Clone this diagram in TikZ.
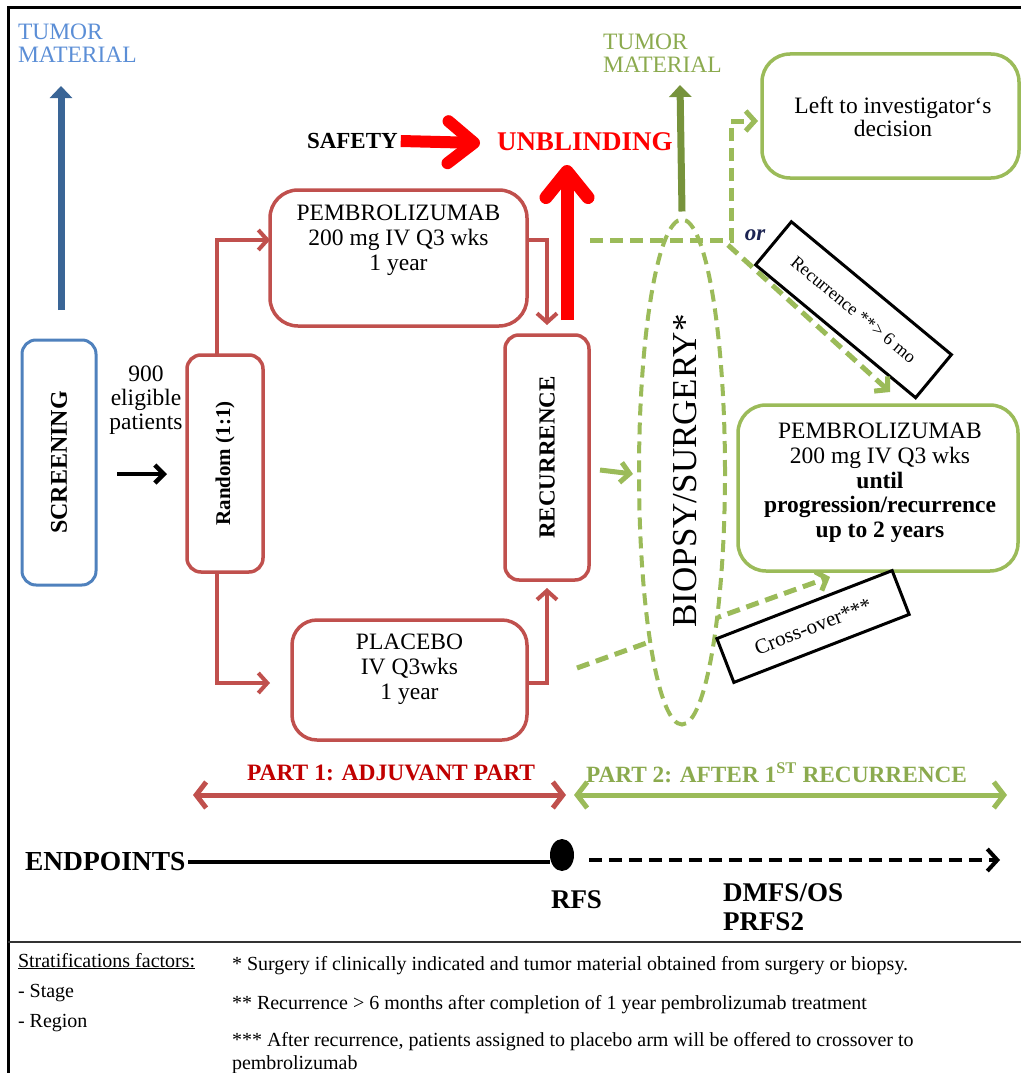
\documentclass[tikz,border=0pt]{standalone}
\usepackage{fontspec}
\setmainfont{Liberation Serif}
\usetikzlibrary{arrows.meta,shapes.geometric}
\definecolor{boxred}{HTML}{C0504D}
\definecolor{brightred}{HTML}{FF0000}
\definecolor{darkred}{HTML}{C00000}
\definecolor{boxgreen}{HTML}{9BBB59}
\definecolor{olivegreen}{HTML}{77933C}
\definecolor{textgreen}{HTML}{8BAA4E}
\definecolor{boxblue}{HTML}{4F81BD}
\definecolor{textblue}{HTML}{5B8ED6}
\definecolor{steelblue}{HTML}{3A6596}
\definecolor{navytext}{HTML}{1C2452}
\newcommand{\fsz}[2]{\fontsize{#1}{#2}\selectfont}

\begin{document}
\begin{tikzpicture}[x=1pt,y=-1pt,
  every node/.style={inner sep=0pt,outer sep=0pt},
  bluebox/.style={draw=boxblue,line width=3pt,rounded corners=14},
  redbox/.style={draw=boxred,line width=3.5pt,fill=white},
  greenbox/.style={draw=boxgreen,line width=3.5pt,rounded corners=28,fill=white},
  blackbox/.style={draw=black,line width=3pt,fill=white},
  lbl/.style={align=center,font=\fsz{23.5}{25}},
  redconn/.style={draw=boxred,line width=4pt,-{Straight Barb[length=9pt,width=20pt]}},
  bigred/.style={draw=brightred,line width=12pt,-{Straight Barb[length=26pt,width=42pt,round]}},
  blackarrow/.style={draw=black,line width=4.5pt,-{Straight Barb[length=9pt,width=18pt]}},
  greenarrow/.style={draw=boxgreen,line width=5pt,-{Straight Barb[length=9pt,width=20pt]}},
  greendash/.style={draw=boxgreen,line width=5pt,dash pattern=on 13pt off 7pt},
  greendasharrow/.style={greendash,-{Straight Barb[length=9pt,width=20pt]}},
  tumorarrow/.style={line width=7pt,-{Triangle[length=12pt,width=22pt]}},
  partarrow/.style={line width=5pt,{Straight Barb[length=10pt,width=26pt]}-{Straight Barb[length=10pt,width=26pt]}},
  blackdash/.style={draw=black,line width=4pt,dash pattern=on 13pt off 7pt,-{Straight Barb[length=10pt,width=22pt]}},
  epfont/.style={font=\bfseries\fsz{27}{29}},
  fnfont/.style={font=\fsz{20}{22}}
]
\useasboundingbox (0,0) rectangle (1021,1073);

% frame and footnote separator
\draw[line width=3pt] (8,1073) -- (8,8) -- (1021,8);
\draw[line width=2.5pt,black!80] (8,942) -- (1021,942);

% ---------- left column ----------
\node[anchor=west,align=left,text=textblue,font=\fsz{23.5}{23}] (tumorL) at (18,43) {TUMOR\\MATERIAL};
\node[bluebox,minimum width=74,minimum height=245] (screen) at (59,462.5) {};
\node[rotate=90,font=\bfseries\fsz{24}{25}] (screenT) at (screen) {SCREENING};
\coordinate (tumorLtip) at (61,86);
\draw[tumorarrow,steelblue] ([xshift=2pt,yshift=30pt]screen.north) -- (tumorLtip);

\node[lbl,font=\fsz{23.5}{24}] (elig) at (146,400) {900\\eligible\\patients};

\node[redbox,rounded corners=14,minimum width=76,minimum height=217] (random) at (225,463.5) {};
\node[rotate=90,font=\bfseries\fsz{21}{22}] (randomT) at (random) {Random (1:1)};
\draw[blackarrow] ([xshift=21pt,yshift=-11.5pt]screen.east) -- ([xshift=-20pt,yshift=-10.5pt]random.west);

% ---------- part 1 arms ----------
\node[redbox,rounded corners=28,minimum width=257,minimum height=136] (pemb) at (398.5,258) {};
\node[lbl] (pembT) at (398.5,240) {PEMBROLIZUMAB\\200 mg IV Q3 wks\\1 year};
\node[redbox,rounded corners=25,minimum width=235,minimum height=120] (placebo) at (409.5,680) {};
\node[lbl] (placeboT) at (409.5,669) {PLACEBO\\IV Q3wks\\1 year};
\node[redbox,rounded corners=14,minimum width=84,minimum height=245] (recur) at (547,457.5) {};
\node[rotate=90,font=\bfseries\fsz{23}{25}] (recurT) at (recur) {RECURRENCE};

\draw[redconn] ([xshift=-8pt]random.north) |- ([yshift=18pt]pemb.west);
\draw[redconn] ([xshift=-8pt]random.south) |- ([xshift=-22pt,yshift=-3pt]placebo.west);
\draw[redconn] ([yshift=18pt]pemb.east) -| ([yshift=10pt]recur.north);
\draw[redconn] ([yshift=-3pt]placebo.east) -| ([yshift=-8pt]recur.south);

% ---------- safety / unblinding ----------
\node[anchor=west,font=\bfseries\fsz{23}{25}] (safety) at (307,141) {SAFETY};
\node[anchor=west,text=brightred,font=\bfseries\fsz{27}{29}] (unblind) at (497,142) {UNBLINDING};
\draw[bigred] ([xshift=3pt]safety.east) -- ([xshift=-17pt,yshift=-1pt]unblind.west);
\coordinate (unblindtip) at (567,165);
\draw[bigred,line width=13pt] ([xshift=20pt,yshift=15pt]recur.north) -- (unblindtip);

% ---------- part 2 ----------
\draw[greendasharrow] (577,668) -- (830,577);
\node[ellipse,draw=boxgreen,line width=4pt,dash pattern=on 12pt off 7pt,fill=white,
      minimum width=86,minimum height=505] (biopsy) at (682,472) {};
\node[rotate=90,font=\fsz{35}{36}] (biopsyT) at (685,471) {BIOPSY/SURGERY*};
\draw[greenarrow] ([xshift=11pt,yshift=-12.5pt]recur.east) -- ([xshift=-6pt,yshift=-2pt]biopsy.west);

\node[anchor=west,align=left,text=textgreen,font=\fsz{23.5}{23}] (tumorR) at (603,53) {TUMOR\\MATERIAL};
\coordinate (tumorRtip) at (680,85);
\draw[tumorarrow,olivegreen] ([yshift=8pt]biopsy.north) -- (tumorRtip);

\node[greenbox,minimum width=257,minimum height=124] (leftbox) at (890.5,116) {};
\node[lbl,font=\fsz{23.5}{23}] (leftboxT) at (893,117) {Left to investigator‘s\\decision};

\coordinate (dashstart) at (590,240);
\coordinate (dashcorner) at (731,240);
\draw[greendasharrow] (dashstart) -- (dashcorner) |- ([xshift=-4pt,yshift=-5pt]leftbox.west);

\node[font=\bfseries\itshape\fsz{23}{24},text=navytext] (ortext) at (755,235) {or};

\node[blackbox,rotate=-39.7,minimum width=208,minimum height=56,font=\fsz{18}{20}] (recbox) at (853.5,309.75) {Recurrence **\kern1pt> 6 mo};
\coordinate (recdashA) at (728,245);
\coordinate (recdashB) at (890,392);
\draw[greendasharrow] (recdashA) -- (recdashB);

\node[greenbox,minimum width=280,minimum height=166] (gpemb) at (878,488) {};
\node[lbl,font=\fsz{23.5}{24.7}] (gpembT) at (880,483) {PEMBROLIZUMAB\\200 mg IV Q3 wks\\\textbf{until}\\\textbf{progression/recurrence}\\\textbf{up to 2 years}};

\node[blackbox,rotate=21.2,minimum width=188,minimum height=47,font=\fsz{21}{23}] (xbox) at (813,626.5) {Cross-over***};

% ---------- phases ----------
\node[anchor=west,text=darkred,font=\bfseries\fsz{23.5}{24}] (part1) at (247,773) {PART 1: ADJUVANT PART};
\node[anchor=west,text=textgreen,font=\bfseries\fsz{23.3}{24}] (part2) at (586,773) {PART 2: AFTER 1\textsuperscript{ST} RECURRENCE};
\coordinate (p1a) at (193,795);
\coordinate (p1b) at (566,795);
\coordinate (p2a) at (574,795);
\coordinate (p2b) at (1007,795);
\draw[partarrow,boxred] (p1a) -- (p1b);
\draw[partarrow,boxgreen] (p2a) -- (p2b);

% ---------- endpoints ----------
\node[anchor=west,font=\bfseries\fsz{27.5}{29}] (endp) at (25,862) {ENDPOINTS};
\node[ellipse,fill=black,minimum width=24,minimum height=32] (rfsdot) at (562,855) {};
\draw[line width=4pt] ([xshift=3pt]endp.east) -- (rfsdot.west |- endp.east);
\coordinate (endtip) at (1000,860);
\draw[blackdash] ([xshift=15pt]rfsdot.east |- endtip) -- (endtip);
\node[anchor=west,epfont] (rfs) at (551,900) {RFS};
\node[anchor=west,epfont] (dmfs) at (723,893) {DMFS/OS};
\node[anchor=west,epfont] (prfs) at (723,922) {PRFS2};

% ---------- footnotes ----------
\node[anchor=base west,fnfont] (strat) at (18,967) {\underline{Stratifications factors:}};
\node[anchor=base west,fnfont] (stage) at (18,997) {- Stage};
\node[anchor=base west,fnfont] (region) at (18,1027) {- Region};
\node[anchor=base west,fnfont] (fn1) at (232,970) {* Surgery if clinically indicated and tumor material obtained from surgery or biopsy.};
\node[anchor=base west,fnfont] (fn2) at (232,1009) {** Recurrence > 6 months after completion of 1 year pembrolizumab treatment};
\node[anchor=base west,fnfont] (fn3) at (232,1046) {*** After recurrence, patients assigned to placebo arm will be offered to crossover to};
\node[anchor=base west,fnfont] (fn3b) at (232,1069) {pembrolizumab};
\end{tikzpicture}
\end{document}
